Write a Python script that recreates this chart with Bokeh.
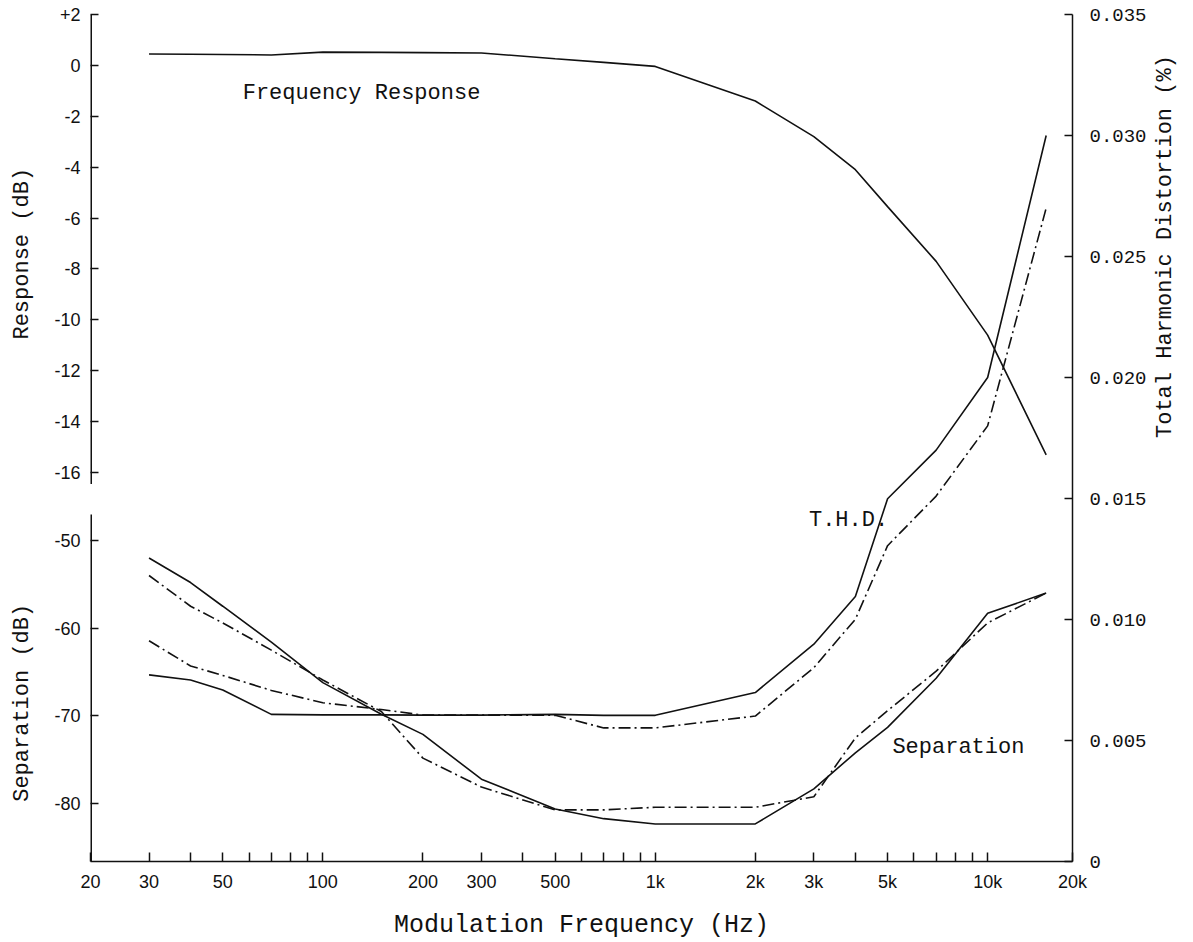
import math
from bokeh.plotting import figure
from bokeh.models import Range1d, LinearAxis, FixedTicker, Label
from bokeh.embed import file_html
from bokeh.resources import INLINE

# ---------------- data ----------------
freq = [30, 40, 50, 70, 100, 150, 200, 300, 500, 700, 1000, 2000, 3000, 4000, 5000, 7000, 10000, 15000]

response_db = [0.45, 0.44, 0.43, 0.41, 0.52, 0.51, 0.50, 0.49, 0.26, 0.12, -0.04, -1.4, -2.8, -4.1, -5.55, -7.7, -10.6, -15.3]

sep_solid_db = [-52.0, -54.8, -57.5, -61.6, -66.2, -69.8, -72.1, -77.2, -80.6, -81.7, -82.3, -82.3, -78.3, -74.2, -71.3, -65.7, -58.3, -56.0]
sep_dashdot_db = [-54.0, -57.5, -59.4, -62.5, -65.9, -69.5, -74.8, -78.1, -80.7, -80.7, -80.4, -80.4, -79.2, -72.5, -69.4, -64.9, -59.4, -56.0]

thd_solid_pct = [0.00771, 0.00750, 0.00709, 0.00608, 0.00606, 0.00606, 0.00605, 0.00605, 0.00608, 0.00604, 0.00604, 0.00698, 0.00898, 0.01095, 0.01499, 0.0170, 0.0200, 0.0300]
thd_dashdot_pct = [0.00912, 0.00808, 0.00769, 0.00707, 0.00656, 0.00628, 0.00605, 0.00605, 0.00604, 0.00552, 0.00552, 0.00601, 0.00801, 0.01001, 0.01305, 0.0151, 0.0180, 0.0270]

x_ticks = [20, 30, 40, 50, 60, 70, 80, 90, 100, 200, 300, 400, 500, 600, 700, 800, 900,
           1000, 2000, 3000, 4000, 5000, 6000, 7000, 8000, 9000, 10000]
x_tick_labels = {20: "20", 30: "30", 50: "50", 100: "100", 200: "200", 300: "300", 500: "500",
                 1000: "1k", 2000: "2k", 3000: "3k", 5000: "5k", 10000: "10k"}
x_end_label = "20k"

resp_ticks = [2, 0, -2, -4, -6, -8, -10, -12, -14, -16]
resp_tick_labels = ["+2", "0", "-2", "-4", "-6", "-8", "-10", "-12", "-14", "-16"]
sep_ticks = [-50, -60, -70, -80]
sep_tick_labels = ["-50", "-60", "-70", "-80"]
thd_ticks = [0, 0.005, 0.010, 0.015, 0.020, 0.025, 0.030, 0.035]
thd_tick_labels = ["0", "0.005", "0.010", "0.015", "0.020", "0.025", "0.030", "0.035"]

# ---------------- layout ----------------
W, H = 1193, 942
BL, BR, BT, BB = 90, 116, 14, 76
FRAME_H = H - BT - BB

X_START, X_END = 20, 18000      # printed log axis ends a little short of 20k

RESP_PX_PER_DB = 25.6
SEP_PX_PER_DB = 8.83
SEP_M50_FROM_TOP = 529

resp_end = 2.0
resp_start = resp_end - FRAME_H / RESP_PX_PER_DB
sep_end = -50 + SEP_M50_FROM_TOP / SEP_PX_PER_DB
sep_start = sep_end - FRAME_H / SEP_PX_PER_DB

INK = "#111111"
MONO = "Liberation Mono"
SANS = "Liberation Sans"

p = figure(width=W, height=H, x_axis_type="log", x_range=Range1d(X_START, X_END),
           y_range=Range1d(0, 0.035), y_axis_location="right",
           output_backend="svg", toolbar_location=None,
           min_border_left=BL, min_border_right=BR, min_border_top=BT, min_border_bottom=BB,
           background_fill_color="white", border_fill_color="white")
p.outline_line_color = None
p.xgrid.visible = False
p.ygrid.visible = False

p.extra_y_ranges = {"resp": Range1d(resp_start, resp_end), "sep": Range1d(sep_start, sep_end)}

ry = p.right[0]
xa = p.below[0]

# ----- left axis (two sections drawn on one axis) -----
def sep_to_resp(s):
    f = (s - sep_start) / (sep_end - sep_start)
    return round(resp_start + f * (resp_end - resp_start), 6)

left_ticks = [float(t) for t in resp_ticks] + [sep_to_resp(s) for s in sep_ticks]
left_labels = resp_tick_labels + sep_tick_labels
left_axis = LinearAxis(y_range_name="resp", ticker=FixedTicker(ticks=left_ticks),
                       major_label_overrides=dict(zip(left_ticks, left_labels)))
left_axis.axis_line_color = None
left_axis.major_tick_in = 8
left_axis.major_tick_out = 0
left_axis.minor_tick_in = 0
left_axis.minor_tick_out = 0
left_axis.major_tick_line_color = INK
left_axis.major_tick_line_width = 1.5
left_axis.major_label_standoff = 10
left_axis.major_label_text_font = SANS
left_axis.major_label_text_font_size = "18px"
left_axis.major_label_text_color = INK
p.add_layout(left_axis, "left")

# axis line pieces for the two left sections
p.segment(x0=[X_START], y0=[-16.45], x1=[X_START], y1=[2], y_range_name="resp", line_color=INK, line_width=3)
p.segment(x0=[X_START], y0=[sep_start], x1=[X_START], y1=[-47.05], y_range_name="sep", line_color=INK, line_width=3)

# left titles (placed in the left side panel so they are not clipped)
p.add_layout(Label(x=X_START, y=-7.4, y_range_name="resp", x_offset=-68, text="Response (dB)",
                   angle=90, angle_units="deg", text_align="center", text_baseline="middle",
                   text_font=MONO, text_font_size="22px", text_color=INK), "left")
p.add_layout(Label(x=X_START, y=-68.5, y_range_name="sep", x_offset=-68, text="Separation (dB)",
                   angle=90, angle_units="deg", text_align="center", text_baseline="middle",
                   text_font=MONO, text_font_size="22px", text_color=INK), "left")

# ----- right axis (THD) -----
ry.ticker = FixedTicker(ticks=thd_ticks)
ry.major_label_overrides = dict(zip(thd_ticks, thd_tick_labels))
ry.axis_line_color = INK
ry.axis_line_width = 1.5
ry.major_tick_in = 8
ry.major_tick_out = 0
ry.minor_tick_in = 0
ry.minor_tick_out = 0
ry.major_tick_line_color = INK
ry.major_tick_line_width = 1.5
ry.major_label_standoff = 17
ry.major_label_text_font = MONO
ry.major_label_text_font_size = "19px"
ry.major_label_text_color = INK
ry.axis_label = "Total Harmonic Distortion (%)"
ry.axis_label_text_font = MONO
ry.axis_label_text_font_size = "22px"
ry.axis_label_text_font_style = "normal"
ry.axis_label_text_color = INK
ry.axis_label_standoff = 16
ry.axis_label_orientation = math.pi / 2

# ----- bottom axis -----
all_x_ticks = x_ticks + [X_END]
x_overrides = {t: x_tick_labels.get(t, "") for t in x_ticks}
x_overrides[X_END] = x_end_label
xa.ticker = FixedTicker(ticks=all_x_ticks)
xa.major_label_overrides = x_overrides
xa.axis_line_color = INK
xa.axis_line_width = 1.5
xa.major_tick_in = 9
xa.major_tick_out = 0
xa.minor_tick_in = 0
xa.minor_tick_out = 0
xa.major_tick_line_color = INK
xa.major_tick_line_width = 1.5
xa.major_label_standoff = 10
xa.major_label_text_font = SANS
xa.major_label_text_font_size = "18px"
xa.major_label_text_color = INK
xa.axis_label = "Modulation Frequency (Hz)"
xa.axis_label_text_font = MONO
xa.axis_label_text_font_size = "25px"
xa.axis_label_text_font_style = "normal"
xa.axis_label_text_color = INK
xa.axis_label_standoff = 16

# ----- curves -----
DASHDOT = "12 4 2 4"
p.line(freq, response_db, y_range_name="resp", line_color=INK, line_width=1.6)
p.line(freq, sep_solid_db, y_range_name="sep", line_color=INK, line_width=1.6)
p.line(freq, sep_dashdot_db, y_range_name="sep", line_color=INK, line_width=1.6, line_dash=DASHDOT)
p.line(freq, thd_solid_pct, line_color=INK, line_width=1.6)
p.line(freq, thd_dashdot_pct, line_color=INK, line_width=1.6, line_dash=DASHDOT)

# ----- in-plot labels -----
p.add_layout(Label(x=57.4, y=-1.09, y_range_name="resp", text="Frequency Response",
                   text_align="left", text_baseline="middle",
                   text_font=MONO, text_font_size="22px", text_color=INK))
p.add_layout(Label(x=2900, y=0.0141, text="T.H.D.",
                   text_align="left", text_baseline="middle",
                   text_font=MONO, text_font_size="22px", text_color=INK))
p.add_layout(Label(x=5170, y=-73.6, y_range_name="sep", text="Separation",
                   text_align="left", text_baseline="middle",
                   text_font=MONO, text_font_size="22px", text_color=INK))

open("out.html", "w").write(file_html(p, INLINE))
